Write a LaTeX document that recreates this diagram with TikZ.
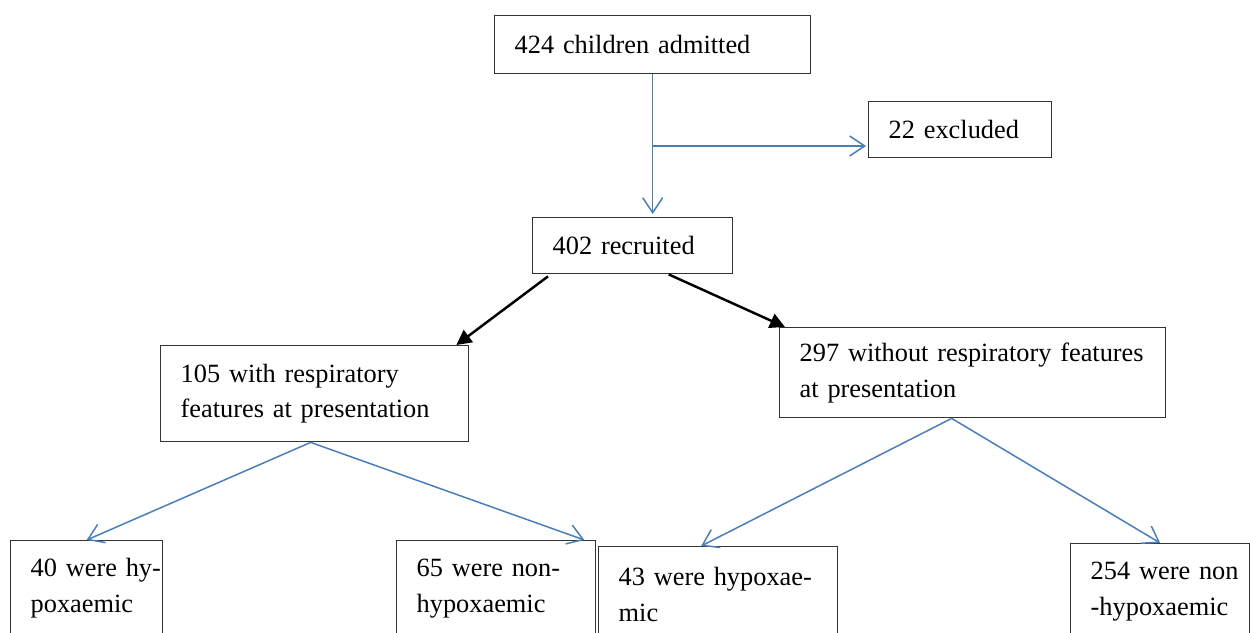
\documentclass[tikz,border=0pt]{standalone}
\usepackage{fontspec}
\setmainfont{Liberation Serif}
\usetikzlibrary{calc,arrows.meta}
\definecolor{flowblue}{HTML}{4A7EBB}
\tikzset{
	box/.style={draw=black!80, line width=0.8pt, anchor=north west, align=left, inner xsep=0.4cm, inner ysep=0pt, font=\fontsize{15}{20.4}\selectfont},
	bluearrow/.style={draw=flowblue, line width=0.85pt, -{Straight Barb[length=3mm,width=4mm]}},
	blackarrow/.style={draw=black, line width=1.4pt, -{Triangle[length=3mm,width=3mm]}}
}

\begin{document}
\begin{tikzpicture}[x=0.02cm, y=-0.02cm]
		%%%%% START %%%%%
		\useasboundingbox (0, 0) rectangle (1250, 632);
		\clip (0, 0) rectangle (1250, 632);
		
		\node[box, text width=5.52cm, minimum height=1.16cm] (admitted) at (494, 15) {424 children admitted};
		\node[box, text width=2.86cm, minimum height=1.12cm] (excluded) at (868, 101) {22 excluded};
		\node[box, text width=3.2cm, minimum height=1.12cm] (recruited) at (532, 217) {402 recruited};
		
		\node[box, text width=5.36cm, minimum height=1.92cm] (resp) at (160, 345) {\mbox{105 with respiratory}\\\mbox{features at presentation}};
		\node[box, text width=6.92cm, minimum height=1.8cm] (noresp) at (779, 327) {\mbox{297 without respiratory features}\\at presentation};
		
		\node[box, text width=2.24cm, minimum height=1.9cm] (hypoA) at (10, 540) {\mbox{40 were hy-}\\poxaemic};
		\node[box, text width=3.18cm, minimum height=1.9cm] (nonhypoA) at (396, 540) {\mbox{65 were non-}\\hypoxaemic};
		\node[box, text width=3.98cm, minimum height=1.9cm] (hypoB) at (598, 546) {\mbox{43 were hypoxae-}\\mic};
		\node[box, text width=2.78cm, minimum height=1.9cm] (nonhypoB) at (1070, 543) {\mbox{254 were non}\\-hypoxaemic};
		
		% admitted -> recruited, with the excluded branch
		\draw[bluearrow] (admitted.south) -- ($(admitted.south |- recruited.north)+(0, -3)$);
		\coordinate (split) at (652, 146);
		\draw[bluearrow] (split) -- ($(split -| excluded.west)+(-2, 0)$);
		
		% recruited -> two groups
		\draw[blackarrow] ($(recruited.south west)+(16, 2)$) -- ($(resp.north east)+(-13, 0)$);
		\draw[blackarrow] ($(recruited.south)+(36, 0)$) -- ($(noresp.north west)+(6, 0)$);
		
		% groups -> oxygen status
		\draw[bluearrow] ($(resp.south)+(-4, 0)$) -- (hypoA.north);
		\draw[bluearrow] ($(resp.south)+(-4, 0)$) -- ($(nonhypoA.north east)+(-12, 0)$);
		\draw[bluearrow] ($(noresp.south)+(-21, 0)$) -- ($(hypoB.north)+(-17, 0)$);
		\draw[bluearrow] ($(noresp.south)+(-21, 0)$) -- (nonhypoB.north);
		
		%%%%% END %%%%%
	\end{tikzpicture}
\end{document}
